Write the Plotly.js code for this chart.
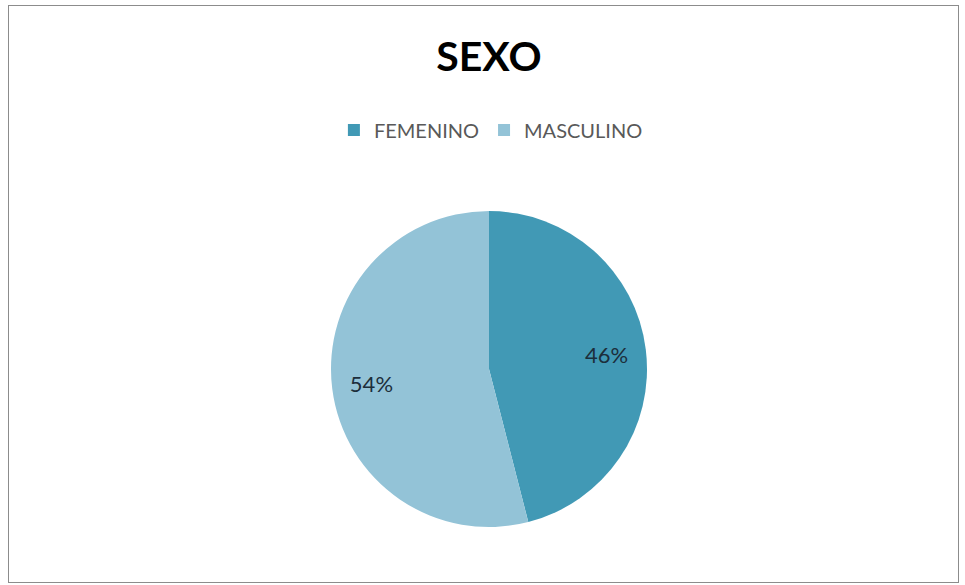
<!DOCTYPE html>
<html>
<head>
<meta charset="utf-8">
<script src="https://cdn.plot.ly/plotly-3.0.1.min.js"></script>
<style>
html,body{margin:0;padding:0;background:#fff;}
#wrap{position:relative;width:965px;height:585px;}
#chart{width:965px;height:585px;}
#frame{position:absolute;left:8px;top:5px;width:951px;height:578px;border:1px solid #8c8c8c;box-sizing:border-box;pointer-events:none;}
</style>
</head>
<body>
<div id="wrap"><div id="chart"></div><div id="frame"></div></div>
<script>
const categories = ["FEMENINO", "MASCULINO"];
const values = [46, 54];
const colors = ["#4199B5", "#93C3D7"];
const chartTitle = "SEXO";

const pieBase = {
  type: "pie",
  labels: categories,
  values: values,
  sort: false,
  direction: "clockwise",
  rotation: 0
};

Plotly.newPlot("chart", [
  Object.assign({}, pieBase, {
    marker: {colors: colors, line: {width: 0}},
    textinfo: "none",
    hoverinfo: "label+percent"
  }),
  Object.assign({}, pieBase, {
    hole: 0.5,
    showlegend: false,
    marker: {colors: ["rgba(0,0,0,0)", "rgba(0,0,0,0)"], line: {width: 0}},
    textinfo: "percent",
    textposition: "inside",
    insidetextorientation: "horizontal",
    textfont: {family: "Lato, sans-serif", size: 22, color: "#1c2e3b"},
    hoverinfo: "skip"
  })
], {
  width: 965, height: 585,
  margin: {l: 13, r: 0, t: 211, b: 58},
  paper_bgcolor: "#fff",
  title: {text: "<b>" + chartTitle + "</b>", font: {family: "Lato, sans-serif", size: 41, color: "#000"},
          x: 0.5067, xref: "container", xanchor: "center", y: 0.903, yref: "container", yanchor: "middle"},
  showlegend: true,
  legend: {orientation: "h", x: 0.502, xanchor: "center", y: 1.256, yanchor: "middle",
           font: {family: "Lato, sans-serif", size: 20, color: "#595959"}, itemclick: false},
}, {displayModeBar: false, staticPlot: true});
</script>
</body>
</html>
